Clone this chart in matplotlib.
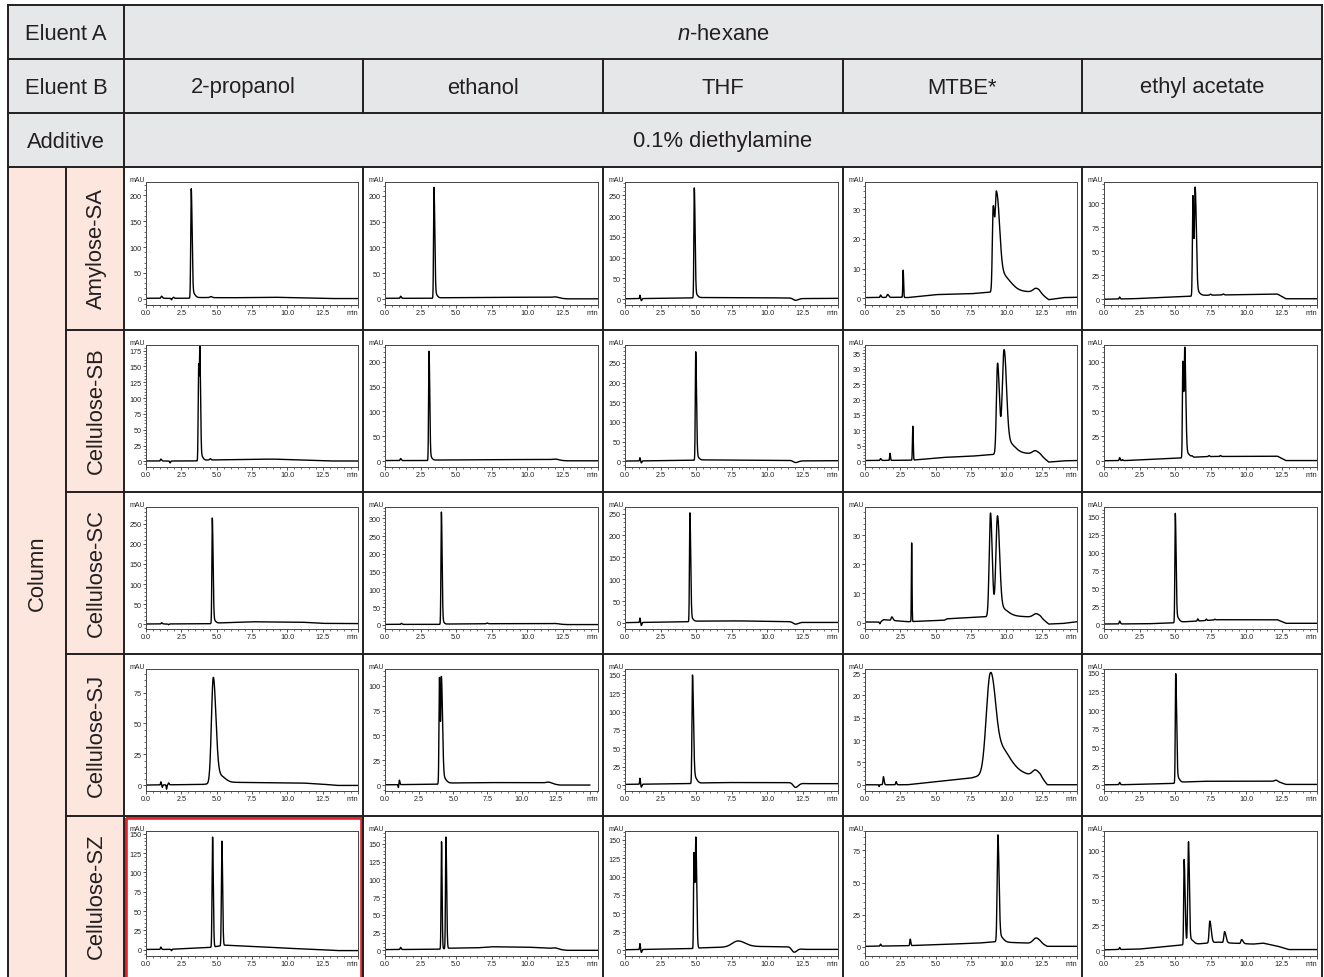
import numpy as np
import matplotlib
matplotlib.use("Agg")
import matplotlib.pyplot as plt
from matplotlib.patches import Rectangle
from matplotlib.ticker import MultipleLocator, FuncFormatter

plt.rcParams["font.family"] = ["Liberation Sans", "DejaVu Sans"]
plt.rcParams["mathtext.fontset"] = "custom"
plt.rcParams["mathtext.it"] = "Liberation Sans:italic"
plt.rcParams["mathtext.rm"] = "Liberation Sans"

# ---- table text ----
ELUENT_A = "$\\it{n}$-hexane"
ELUENT_B = ["2-propanol", "ethanol", "THF", "MTBE*", "ethyl acetate"]
ADDITIVE = "0.1% diethylamine"
COLUMNS = ["Amylose-SA", "Cellulose-SB", "Cellulose-SC", "Cellulose-SJ", "Cellulose-SZ"]

# ---- y range of every chromatogram (rows = column, cols = eluent B) ----
Y_MIN = [[-12, -12, -14, -2.3, -6],
         [-9, -12, -14, -1.9, -6],
         [-12, -12, -14, -2.2, -7],
         [-4.5, -6, -8, -1.4, -8],
         [-8, -8, -8, -7, -6]]
Y_MAX = [[226, 227, 282, 39.2, 122],
         [184, 234, 295, 37.7, 117],
         [292, 332, 265, 39.7, 164],
         [94, 117, 158, 25.9, 155],
         [153.5, 168, 162, 90, 120]]
Y_STEP = [[50, 50, 50, 10, 25],
          [25, 50, 50, 5, 25],
          [50, 50, 50, 10, 25],
          [25, 25, 25, 5, 25],
          [25, 25, 25, 25, 25]]
X_MAX = [[15, 15, 15, 15, 15],
         [15, 15, 15, 15, 15],
         [15, 15, 15, 15, 15],
         [15, 15.6, 15, 15, 15],
         [15, 15, 15, 15, 15]]

# ---- peaks: (retention time min, height mAU, left width, right width) ----
PEAKS_SA = [
    [(1.1, 4, .04, .06), (1.8, -3, .03, .03), (1.95, 2, .04, .04), (3.2, 210, .035, .06),
     (3.3, 10, .05, .15), (4.6, 2, .08, .08)],
    [(1.1, 4, .03, .05), (3.45, 214, .03, .055), (3.55, 8, .05, .12), (12.0, 2, .2, .2)],
    [(1.05, 8, .02, .03), (1.15, -5, .03, .04), (4.88, 264, .03, .055), (5.0, 8, .05, .12),
     (12.0, -5, .15, .2)],
    [(1.1, .8, .03, .05), (1.6, 1, .05, .08), (2.7, 9.2, .025, .03), (9.07, 28, .06, .09),
     (9.3, 31, .085, .2), (9.6, 6, .2, .6), (12.1, 1.3, .2, .25)],
    [(1.1, 2, .03, .04), (6.26, 104, .035, .055), (6.42, 108, .045, .08), (6.5, 5, .1, .2),
     (7.5, 1, .05, .05), (8.4, 1, .05, .05)],
]
PEAKS_SB = [
    [(1.05, 3, .03, .05), (1.7, -3, .03, .04), (3.72, 152, .03, .04), (3.81, 168, .03, .05),
     (3.9, 8, .05, .12), (4.55, 2, .05, .05)],
    [(1.1, 4, .03, .05), (3.1, 218, .03, .05), (3.18, 8, .05, .12), (12.0, 2, .2, .2)],
    [(1.05, 8, .02, .03), (1.15, -5, .03, .04), (4.98, 274, .03, .055), (5.1, 8, .05, .12),
     (12.0, -5, .15, .2)],
    [(1.1, .6, .03, .05), (1.77, 2.3, .025, .03), (3.38, 11, .025, .03), (9.38, 29.5, .08, .13),
     (9.83, 31.5, .12, .17), (10.0, 4, .15, .5), (12.05, 1.2, .2, .25)],
    [(1.1, 3, .03, .04), (1.3, 1, .03, .04), (5.55, 97, .03, .055), (5.69, 105, .04, .07),
     (5.8, 5, .1, .2), (6.2, 1, .04, .04), (7.4, 1, .04, .04), (8.2, 1, .04, .04)],
]
PEAKS_SC = [
    [(1.1, 3, .03, .05), (1.6, -2, .03, .04), (4.69, 262, .03, .055), (4.8, 8, .05, .12)],
    [(1.15, 3, .03, .05), (3.97, 314, .03, .05), (4.05, 8, .05, .1), (7.2, 2, .05, .05),
     (12.0, 1.5, .2, .2)],
    [(1.05, 10, .02, .03), (1.15, -7, .03, .04), (4.57, 248, .03, .055), (4.68, 8, .05, .12),
     (12.0, -5, .15, .2)],
    [(1.05, -.6, .03, .03), (1.9, 1.2, .05, .08), (3.3, 27, .02, .025), (8.88, 35.5, .09, .12),
     (9.37, 32, .11, .15), (9.5, 3, .2, .5), (12.1, 1.2, .2, .25)],
    [(1.1, 4, .03, .05), (5.02, 152, .03, .055), (5.12, 8, .05, .15), (6.6, 3, .03, .04),
     (7.2, 2, .03, .04), (7.8, 1, .03, .04)],
]
PEAKS_SJ = [
    [(1.05, 2.5, .02, .03), (1.15, -2, .02, .03), (1.45, -3.5, .02, .03), (1.6, 1.5, .03, .04),
     (4.76, 84, .13, .18), (5.1, 6, .2, .4)],
    [(.98, -3, .02, .02), (1.05, 4.5, .02, .04), (3.99, 107, .035, .05), (4.13, 104, .04, .08),
     (4.25, 6, .08, .2), (12.0, 1.5, .2, .25)],
    [(1.05, 8, .02, .03), (1.15, -4, .03, .04), (4.75, 145, .035, .07), (4.85, 10, .06, .18),
     (12.0, -6, .15, .2)],
    [(1.0, -.4, .02, .02), (1.3, 1.8, .03, .05), (2.2, .7, .03, .04), (8.84, 20.5, .27, .33),
     (9.3, 6, .3, .8), (12.05, 1.2, .2, .25)],
    [(1.1, 3, .03, .04), (5.05, 145, .03, .06), (5.15, 8, .05, .15), (12.1, 1.5, .1, .1)],
]
PEAKS_SZ = [
    [(1.05, 3, .03, .04), (1.8, -2, .03, .03), (4.71, 142, .035, .05), (5.37, 135, .035, .05)],
    [(1.1, 3, .03, .04), (3.98, 151, .03, .04), (4.29, 157, .03, .05), (12.0, 1.5, .2, .2)],
    [(1.05, 8, .02, .03), (1.15, -4, .03, .04), (4.85, 130, .025, .055), (4.99, 146, .04, .06),
     (7.95, 8, .4, .5), (11.9, -6, .15, .2)],
    [(1.1, 1.5, .03, .04), (3.2, 5, .03, .04), (9.4, 80, .05, .08), (9.5, 5, .1, .25),
     (12.1, 4, .2, .25)],
    [(1.1, 2, .03, .04), (5.64, 86, .03, .07), (5.95, 102, .05, .06), (6.1, 5, .1, .2),
     (7.45, 22, .05, .1), (8.49, 11, .05, .1), (9.69, 4, .05, .1)],
]

# ---- baseline drift: (time min, mAU) ----
BASE_SA = [
    [(0, 1), (3.0, 1), (3.5, 2.5), (6, 2), (9, 3), (11, 2), (13, .5), (15, .5)],
    [(0, 1), (3.3, 1), (3.7, 2), (7.5, 3), (11.5, 3), (12.8, 0), (15, 0)],
    [(0, 1), (4.7, 3), (5.2, 4), (11.5, 3), (12.6, 1.5), (15, 2)],
    [(0, .2), (2.5, .3), (3.0, .2), (5, 1.2), (7.5, 1.5), (8.8, 2), (10.5, 2.5), (11.5, 2.2),
     (12.3, 2), (13, -.5), (14, .2), (15, .3)],
    [(0, 0), (2, .5), (6.0, 3), (6.7, 4), (12.2, 5.5), (12.8, .5), (15, .5)],
]
BASE_SB = [
    [(0, .5), (3.6, .5), (4.2, 2), (7, 3), (9, 3.5), (11, 2), (13, .5), (15, .5)],
    [(0, 1), (3.0, 1), (3.5, 2), (8, 3), (11.5, 3), (12.8, .5), (15, .5)],
    [(0, 1), (4.8, 3), (5.3, 4), (11.5, 3), (12.6, 1.5), (15, 2)],
    [(0, .2), (3.3, .3), (5.5, 1.2), (7.5, 1.6), (9.2, 2.2), (10.6, 2.7), (11.5, 2.5), (12.4, 2),
     (13, -.3), (14, .1), (15, .2)],
    [(0, .3), (1.5, .5), (5.3, 3), (6, 3.5), (7, 4.5), (12.2, 5), (12.8, .5), (15, .5)],
]
BASE_SC = [
    [(0, .5), (4.5, 1), (5.0, 3), (6, 4), (7.5, 6), (11, 5), (12.5, 2), (15, 1.5)],
    [(0, 1), (3.8, 1), (4.2, 2), (8, 3), (11.5, 3), (12.8, .5), (15, .5)],
    [(0, .5), (4.4, 2.5), (5.0, 4), (8, 4.5), (11.5, 3), (12.6, 1), (15, 1)],
    [(0, .2), (1.1, .2), (1.3, 1), (3.0, .3), (5.6, .8), (5.8, 1.3), (8.5, 2), (10, 2.4),
     (11.5, 2), (12.4, 1.8), (13, -.5), (14, -.3), (15, .3)],
    [(0, 0), (3, .3), (4.8, 1.5), (5.5, 3), (6.5, 4), (8, 6), (12.2, 6), (12.8, 1), (15, 1)],
]
BASE_SJ = [
    [(0, .3), (4.0, .8), (4.4, 1.2), (5.5, 3), (6, 2.5), (11, 2), (12.5, 1), (13.5, 0), (15, 0)],
    [(0, .3), (3.8, .8), (4.4, 2), (7.5, 2.5), (11.5, 2.3), (12.8, 0), (15, 0)],
    [(0, 1), (4.5, 2), (5.5, 3), (7, 3.5), (11.5, 3.5), (12.8, 2), (15, 2)],
    [(0, 0), (3, 0), (7.5, 1.5), (8.1, 2), (10, 3.2), (11.5, 2.3), (12.4, 2), (12.9, 0), (15, 0)],
    [(0, .3), (1.5, .5), (4.8, 2), (5.6, 4), (7, 5), (12.2, 5), (12.8, .8), (15, .8)],
]
BASE_SZ = [
    [(0, .5), (1.5, .5), (4.5, 3), (5.6, 6), (8, 4), (10, 2), (12, .5), (13.5, -1), (15, -1)],
    [(0, 1), (3.8, 1.5), (4.5, 3), (6.5, 3.5), (7.5, 5), (10, 4.5), (11.5, 3), (12.8, 0), (15, 0)],
    [(0, .5), (4.6, 2), (5.3, 3), (7, 4), (9, 5), (11.5, 4.5), (12.6, 1), (15, 1)],
    [(0, .5), (3, 1), (8, 3), (9.2, 4), (11.5, 3), (12.4, 3), (12.9, .5), (15, .5)],
    [(0, .2), (2.5, 1), (5.3, 5), (6.5, 6), (8, 8), (9, 7), (10.5, 6), (11.2, 7), (12.2, 4),
     (13, .5), (15, .5)],
]

PEAKS = [PEAKS_SA, PEAKS_SB, PEAKS_SC, PEAKS_SJ, PEAKS_SZ]
BASES = [BASE_SA, BASE_SB, BASE_SC, BASE_SJ, BASE_SZ]

# ---- layout (pixels) ----
W, H = 1324, 978
LEFT, MID, RIGHT = 8, 124, 1322
SUB = 66
TOP = 6
HEAD_Y = [6, 60, 114, 168]
COL_X = [124, 363, 603, 843, 1082, 1322]
ROW_Y = [168, 331, 493, 655, 817, 978]
INK = "#231f20"


def trace(t, peaks, knots):
    kt, ky = zip(*knots)
    y = np.interp(t, kt, ky)
    for t0, h, sl, sr in peaks:
        s = np.where(t < t0, sl, sr)
        y = y + h * np.exp(-0.5 * ((t - t0) / s) ** 2)
    return y


def xfmt(v, pos):
    # the last major tick carries the unit, drawn separately
    return "" if v > 14.9 else f"{v:.1f}"


fig = plt.figure(figsize=(W / 100, H / 100), dpi=100)
bg = fig.add_axes([0, 0, 1, 1])
bg.set_xlim(0, W)
bg.set_ylim(H, 0)
bg.axis("off")

# fills
bg.add_patch(Rectangle((LEFT, TOP), RIGHT - LEFT, HEAD_Y[-1] - TOP, fc="#e6e7e8", ec="none"))
bg.add_patch(Rectangle((LEFT, ROW_Y[0]), MID - LEFT, H - ROW_Y[0], fc="#fde6dd", ec="none"))

lw = 1.4
for y in HEAD_Y:
    bg.plot([LEFT, RIGHT], [y, y], color=INK, lw=lw)
for y in ROW_Y[1:-1]:
    bg.plot([SUB, RIGHT], [y, y], color=INK, lw=lw)
for x in [LEFT, MID, RIGHT]:
    bg.plot([x, x], [TOP, H], color=INK, lw=lw)
bg.plot([SUB, SUB], [ROW_Y[0], H], color=INK, lw=lw)
for x in COL_X[1:-1]:
    bg.plot([x, x], [HEAD_Y[1], HEAD_Y[2]], color=INK, lw=lw)
    bg.plot([x, x], [ROW_Y[0], H], color=INK, lw=lw)

fs = 15.8
hx = (LEFT + MID) / 2
bg.text(hx, 40.5, "Eluent A", ha="center", va="baseline", fontsize=fs, color=INK)
bg.text(hx, 93.5, "Eluent B", ha="center", va="baseline", fontsize=fs, color=INK)
bg.text(hx, 147.5, "Additive", ha="center", va="baseline", fontsize=fs, color=INK)
bg.text((MID + RIGHT) / 2, 40.5, ELUENT_A, ha="center", va="baseline", fontsize=fs, color=INK)
bg.text((MID + RIGHT) / 2, 147.5, ADDITIVE, ha="center", va="baseline", fontsize=fs, color=INK)
for j, name in enumerate(ELUENT_B):
    bg.text((COL_X[j] + COL_X[j + 1]) / 2, 93.5, name, ha="center", va="baseline",
            fontsize=fs, color=INK)
bg.text((LEFT + SUB) / 2, (ROW_Y[0] + H) / 2, "Column", rotation=90, ha="center",
        va="center", fontsize=fs, color=INK)
for i, name in enumerate(COLUMNS):
    bg.text((SUB + MID) / 2 + 1, (ROW_Y[i] + ROW_Y[i + 1]) / 2 - 1, name, rotation=90,
            ha="center", va="center", fontsize=fs, color=INK)

# highlighted cell
bg.add_patch(Rectangle((125.5, 818.5), 236, 170, fc="none", ec="#e8202a", lw=2.6))

t = np.linspace(0, 15, 3001)
for i in range(5):
    for j in range(5):
        x0, x1 = COL_X[j], COL_X[j + 1]
        y0, y1 = ROW_Y[i], ROW_Y[i + 1]
        l, r = x0 + 22, x1 - 5
        top = y0 + 15
        bot = y1 - (21 if i == 4 else 25)
        ax = fig.add_axes([l / W, 1 - bot / H, (r - l) / W, (bot - top) / H])
        ax.plot(t, trace(t, PEAKS[i][j], BASES[i][j]), color="black", lw=1.0)
        ax.set_xlim(0, X_MAX[i][j])
        ax.set_ylim(Y_MIN[i][j], Y_MAX[i][j])
        step = Y_STEP[i][j]
        ax.xaxis.set_major_locator(MultipleLocator(2.5))
        ax.xaxis.set_minor_locator(MultipleLocator(0.5))
        ax.xaxis.set_major_formatter(FuncFormatter(xfmt))
        ax.yaxis.set_major_locator(MultipleLocator(step))
        ax.yaxis.set_minor_locator(MultipleLocator(step / 5))
        ax.yaxis.set_major_formatter(FuncFormatter(lambda v, p: f"{v:g}"))
        ax.tick_params(which="major", length=2.2, width=0.55, labelsize=5.2, pad=1.0,
                       colors="#222222")
        ax.tick_params(which="minor", length=1.2, width=0.45, colors="#222222")
        for sp in ax.spines.values():
            sp.set_linewidth(0.7)
            sp.set_color("#444444")
        ax.annotate("mAU", xy=(0, 1), xycoords="axes fraction", xytext=(-1, -1),
                    textcoords="offset points", ha="right", va="bottom", fontsize=5.0,
                    color="#222222")
        ax.annotate("min", xy=(1, 0), xycoords="axes fraction", xytext=(0, -3.2),
                    textcoords="offset points", ha="right", va="top", fontsize=5.2,
                    color="#222222")

fig.savefig("out.png", dpi=100)
